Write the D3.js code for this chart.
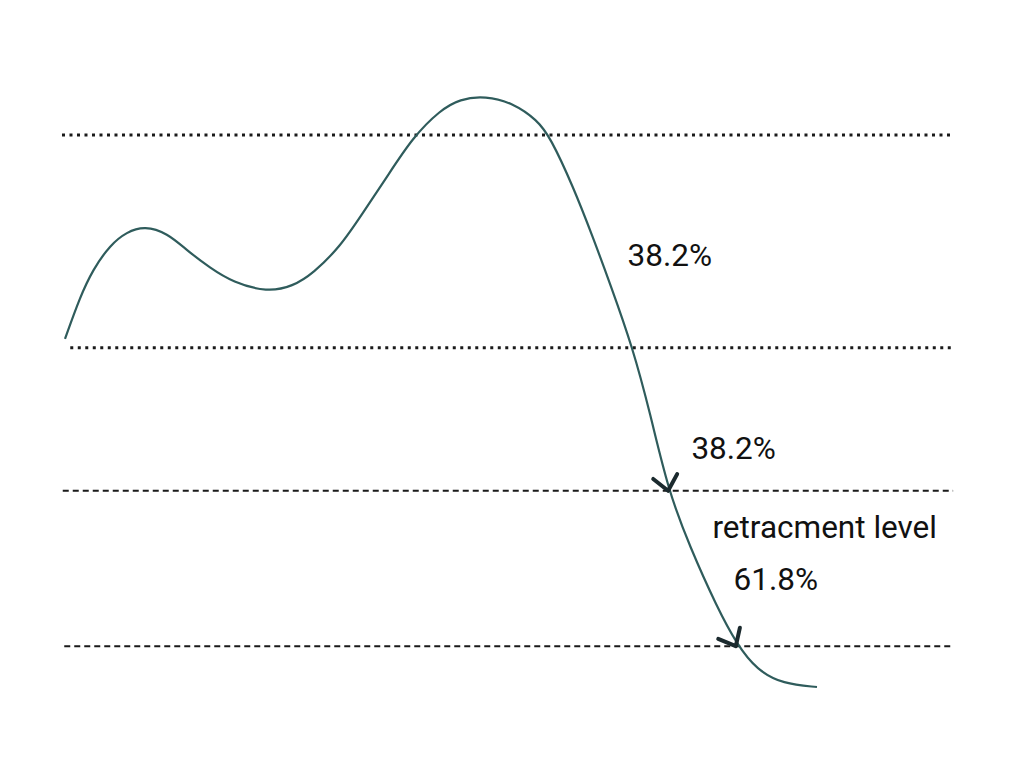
<!DOCTYPE html>
<html><head><meta charset="utf-8">
<script src="https://cdn.jsdelivr.net/npm/d3@7"></script>
<style>html,body{margin:0;padding:0;background:#fff;}svg{display:block;}</style>
</head><body>
<svg id="chart" width="1024" height="766"></svg>
<script>
// price path (x: time units, y: price units)
const pathX = [0, 2.0, 3.7, 6.0, 8.2, 10.6, 13.6, 16.2, 19.3, 22.3, 26.9, 30.3, 33.0, 36.6, 39.6, 42.8, 46.3, 49.9, 52.5, 55.9, 59.6, 62.8, 64.5, 67.6, 70.2, 72.5, 75.5, 77.8, 80.2, 83.1, 86.7, 89.4, 92.0, 95.5, 100];
const pathY = [58.9, 66.0, 70.6, 74.8, 77.0, 78.0, 76.8, 73.9, 70.9, 68.5, 66.8, 67.8, 70.0, 74.5, 80.2, 86.3, 93.1, 97.6, 99.5, 100, 98.8, 95.9, 93.1, 84.6, 76.1, 68.2, 57.4, 46.4, 33.3, 23.7, 13.5, 7.1, 2.9, 0.5, 0];
// horizontal levels
const levelValues = [93.4, 57.4, 33.2, 6.9];
const levelStyles = ["dotted", "dotted", "dashed", "dashed"];
const levelStart = [-0.4, 0.7, -0.3, -0.1];
const levelEnd = [118.1, 117.9, 118.1, 118.1];
// arrows where the path meets a level
const arrowX = [80.2, 89.2];
const arrowLevel = [33.2, 6.9];
// annotations
const labels = ["38.2%", "38.2%", "retracment level", "61.8%"];
const labelX = [74.8, 83.3, 86.1, 88.9];
const labelY = [71.3, 38.6, 25.2, 16.4];

const x = d3.scaleLinear().domain([0, 100]).range([65, 817]);
const y = d3.scaleLinear().domain([0, 100]).range([687, 96]);
const svg = d3.select("#chart");

const dashes = {dotted: "3,4.5", dashed: "6,4"};
const widths = {dotted: 2.8, dashed: 2};
svg.append("g").selectAll("line").data(levelValues).join("line")
  .attr("x1", (d, i) => x(levelStart[i]))
  .attr("x2", (d, i) => x(levelEnd[i]))
  .attr("y1", d => y(d)).attr("y2", d => y(d))
  .attr("stroke", "#1a1a1a").attr("stroke-width", (d, i) => widths[levelStyles[i]])
  .attr("stroke-dasharray", (d, i) => dashes[levelStyles[i]]);

const pts = pathX.map((d, i) => [d, pathY[i]]);
const line = d3.line().x(d => x(d[0])).y(d => y(d[1])).curve(d3.curveBasis);
svg.append("path").datum(pts).attr("d", line)
  .attr("fill", "none").attr("stroke", "#2f5c5c").attr("stroke-width", 2.2);

// arrowheads oriented by local path direction
function dirAt(xv) {
  let i = pathX.findIndex(v => v >= xv); if (i < 1) i = 1;
  const j = Math.min(i + 1, pathX.length - 1);
  return Math.atan2(y(pathY[j]) - y(pathY[i-1]), x(pathX[j]) - x(pathX[i-1]));
}
arrowX.forEach((ax, i) => {
  const tx = x(ax), ty = y(arrowLevel[i]);
  const back = dirAt(ax) + Math.PI;
  const a1 = back - 35 * Math.PI / 180, a2 = back + 45 * Math.PI / 180, L = 19;
  const p = `M${tx + L*Math.cos(a1)},${ty + L*Math.sin(a1)}L${tx},${ty}L${tx + L*Math.cos(a2)},${ty + L*Math.sin(a2)}`;
  svg.append("path").attr("d", p).attr("fill", "none").attr("stroke", "#1b2a2e")
    .attr("stroke-width", 4).attr("stroke-linecap", "round").attr("stroke-linejoin", "round");
});

svg.append("g").selectAll("text").data(labels).join("text")
  .attr("x", (d, i) => x(labelX[i])).attr("y", (d, i) => y(labelY[i]))
  .attr("font-family", "Roboto, sans-serif").attr("font-size", 31.5)
  .attr("fill", "#111").text(d => d);
</script>
</body></html>
